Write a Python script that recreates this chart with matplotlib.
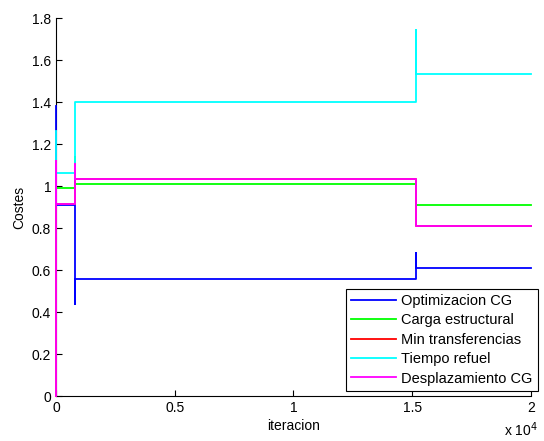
import matplotlib
matplotlib.use('Agg')
import matplotlib.pyplot as plt

plt.rcParams['font.family'] = ['Liberation Sans', 'DejaVu Sans']
plt.rcParams['font.size'] = 10

# breakpoints of each cost curve (iteration, value)
it_opt = [0, 0, 800, 800, 800, 15150, 15150, 15150, 20000]
cost_opt = [1.38, 0.91, 0.91, 0.44, 0.555, 0.555, 0.68, 0.61, 0.61]

it_carga = [0, 800, 800, 800, 15150, 15150, 20000]
cost_carga = [0.99, 0.99, 1.14, 1.01, 1.01, 0.91, 0.91]

it_transf = [0, 0, 0, 800, 800, 800, 15150, 15150, 20000]
cost_transf = [0, 1.12, 0.915, 0.915, 1.105, 1.035, 1.035, 0.81, 0.81]

it_refuel = [0, 0, 800, 800, 15150, 15150, 15150, 20000]
cost_refuel = [1.26, 1.06, 1.06, 1.40, 1.40, 1.745, 1.535, 1.535]

it_despl = [0, 0, 0, 800, 800, 800, 15150, 15150, 20000]
cost_despl = [0, 1.12, 0.915, 0.915, 1.105, 1.035, 1.035, 0.81, 0.81]

labels = ['Optimizacion CG', 'Carga estructural', 'Min transferencias',
          'Tiempo refuel', 'Desplazamiento CG']
colors = ['#0000ff', '#00ff00', '#ff0000', '#00ffff', '#ff00ff']

xticks = [0, 5000, 10000, 15000, 20000]
xtick_labels = ['0', '0.5', '1', '1.5', '2']
yticks = [0, 0.2, 0.4, 0.6, 0.8, 1.0, 1.2, 1.4, 1.6, 1.8]
ytick_labels = ['0', '0.2', '0.4', '0.6', '0.8', '1', '1.2', '1.4', '1.6', '1.8']

fig = plt.figure(figsize=(5.44, 4.41), dpi=100)
ax = fig.add_axes([0.103, 0.102, 0.873, 0.857])

series = [(it_opt, cost_opt), (it_carga, cost_carga), (it_transf, cost_transf),
          (it_refuel, cost_refuel), (it_despl, cost_despl)]
for (x, y), lab, col in zip(series, labels, colors):
    ax.plot(x, y, color=col, lw=1.3, label=lab, zorder=3, clip_on=False)

ax.set_xlim(0, 20000)
ax.set_ylim(0, 1.8)
ax.set_xticks(xticks)
ax.set_xticklabels(xtick_labels)
ax.set_yticks(yticks)
ax.set_yticklabels(ytick_labels)
ax.tick_params(direction='in', length=4, width=0.8)
ax.spines['top'].set_visible(False)
ax.spines['right'].set_visible(False)
ax.set_xlabel('iteracion', labelpad=3)
ax.set_ylabel('Costes', labelpad=4)
fig.text(0.958, 0.005, r'x 10$^4$', ha='center', va='bottom')

leg = ax.legend(loc='upper left', bbox_to_anchor=(0.636, 0.345),
                bbox_transform=fig.transFigure, fancybox=False,
                edgecolor='black', framealpha=1, borderpad=0.35,
                handlelength=3.1, handletextpad=0.35, labelspacing=0.37,
                borderaxespad=0, fontsize=10.5)
leg.get_frame().set_linewidth(0.8)
leg.set_zorder(5)

fig.savefig('out.png')
